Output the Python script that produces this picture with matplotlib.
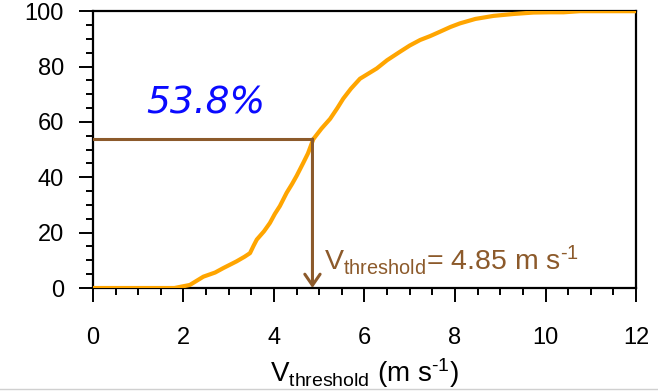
import numpy as np
import matplotlib.pyplot as plt
from matplotlib.lines import Line2D
from matplotlib.ticker import MultipleLocator

# cumulative percentage of cases vs. threshold wind speed
v_thr = [0.0, 1.0, 1.8, 2.14, 2.44, 2.7, 2.88, 3.17, 3.35, 3.47, 3.55, 3.62,
         3.78, 3.91, 4.02, 4.13, 4.28, 4.40, 4.50, 4.65, 4.75, 4.87, 5.05,
         5.24, 5.40, 5.53, 5.70, 5.90, 6.08, 6.27, 6.50, 6.78, 7.00, 7.23,
         7.45, 7.67, 7.90, 8.11, 8.45, 8.85, 9.30, 9.73, 10.1, 10.4, 10.76,
         12.0]
cum_pct = [0.0, 0.0, 0.0, 1.1, 4.1, 5.6, 7.2, 9.6, 11.3, 12.6, 15.3, 17.5,
           20.5, 23.5, 26.8, 29.6, 34.4, 37.6, 40.5, 45.3, 48.6, 53.8, 57.6,
           61.1, 65.0, 68.4, 72.0, 75.6, 77.4, 79.3, 82.3, 85.3, 87.6, 89.6,
           91.0, 92.6, 94.3, 95.6, 97.2, 98.3, 99.0, 99.5, 99.6, 99.6, 100.0,
           100.0]

v_sel = 4.85
pct_sel = 53.8

brown = '#8c5a2b'
orange = '#ffa500'

plt.rcParams['font.family'] = ['Liberation Sans', 'DejaVu Sans']
plt.rcParams['mathtext.fontset'] = 'custom'
plt.rcParams['mathtext.rm'] = 'Liberation Sans'
plt.rcParams['mathtext.it'] = 'Liberation Sans'

fig = plt.figure(figsize=(6.58, 3.91), dpi=100)
ax = fig.add_axes([0.1413, 0.2634, 0.8253, 0.7080])

ax.plot(v_thr, cum_pct, color=orange, lw=3.0, solid_capstyle='round',
        solid_joinstyle='round', zorder=3)

ax.plot([0, v_sel], [pct_sel, pct_sel], color=brown, lw=2.2, zorder=4)
ax.annotate('', xy=(v_sel, 0), xytext=(v_sel, pct_sel),
            arrowprops=dict(arrowstyle='->,head_length=0.8,head_width=0.55',
                            color=brown, lw=2.2, shrinkA=0, shrinkB=0),
            zorder=4)

ax.text(2.5, 66.5, f'{pct_sel}%', color='#0a0aff', fontsize=27, style='italic',
        family='DejaVu Sans', ha='center', va='center')
ax.text(5.1, 4, r'V$_{\mathrm{threshold}}$= ' + f'{v_sel}' + r' m s$^{\text{-1}}$',
        color=brown, fontsize=20.5, ha='left', va='bottom')

ax.set_xlim(0, 12)
ax.set_ylim(0, 100)
ax.xaxis.set_major_locator(MultipleLocator(2))
ax.xaxis.set_minor_locator(MultipleLocator(0.5))
ax.yaxis.set_major_locator(MultipleLocator(20))
ax.yaxis.set_minor_locator(MultipleLocator(5))
ax.tick_params(which='both', direction='out', top=False, right=False,
               width=1.4, labelsize=17)
ax.tick_params(which='major', length=10)
ax.tick_params(which='minor', length=5)
ax.tick_params(axis='x', which='major', pad=18)
ax.tick_params(axis='y', which='major', pad=11)
for s in ax.spines.values():
    s.set_linewidth(1.6)

ax.set_xlabel(r'V$_{\mathrm{threshold}}$ (m s$^{\text{-1}}$)', fontsize=20, labelpad=5)

# thin grey rule along the bottom edge
fig.add_artist(Line2D([0, 1], [0.005, 0.005], color='#d0d0d0', lw=1.0,
                      transform=fig.transFigure, zorder=0))

fig.savefig('out.png', dpi=100)
